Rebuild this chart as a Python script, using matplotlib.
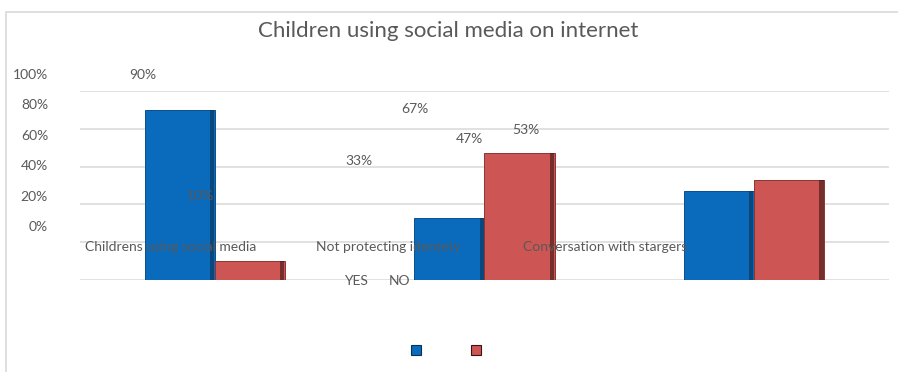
import numpy as np
import matplotlib.pyplot as plt
from matplotlib.patches import Rectangle

categories = ['Childrens using social media', 'Not protecting identety', 'Conversation with stargers']
yes_vals = [90, 33, 47]
no_vals = [10, 67, 53]
series_names = ['YES', 'NO']
y_ticks = [0, 20, 40, 60, 80, 100]
title = 'Children using social media on internet'

W, H = 898, 372
plt.rcParams['font.family'] = ['Lato', 'DejaVu Sans']
txt = '#595959'
blue, blue_edge, blue_dk = '#0a6bbd', '#0a4f8c', '#0b3052'
red, red_edge, red_dk = '#cd5553', '#8a3533', '#3a1413'

fig = plt.figure(figsize=(W / 100, H / 100), dpi=100)

def px(x, y):
    # pixel position -> figure fraction
    return x / W, 1 - y / H

# chart frame (only the left and top edges fall inside the image)
fig.patches.append(Rectangle(px(6, 400), 1, (400 - 12) / H, transform=fig.transFigure,
                             fill=False, edgecolor='#d9d9d9', lw=1.2))

ax = fig.add_axes([80 / W, (H - 280) / H, 809 / W, 189 / H])
x = np.arange(len(categories))
bw = 0.26
ax.bar(x - bw / 2, yes_vals, bw, color=blue, edgecolor=blue_edge, lw=0.7, zorder=3)
ax.bar(x + bw / 2, no_vals, bw, color=red, edgecolor=red_edge, lw=0.7, zorder=3)
# darker right-hand bevel on each bar
ax.bar(x - bw / 2 + bw * 0.46, yes_vals, bw * 0.06, color=blue_dk, lw=0, zorder=4, alpha=0.6)
ax.bar(x + bw / 2 + bw * 0.46, no_vals, bw * 0.06, color=red_dk, lw=0, zorder=4, alpha=0.6)

ax.set_xlim(-0.5, 2.5)
ax.set_ylim(0, 100)
ax.set_yticks(y_ticks)
ax.yaxis.grid(True, color='#d9d9d9', lw=1.1, zorder=0)
ax.tick_params(left=False, bottom=False, labelleft=False, labelbottom=False)
for s in ax.spines.values():
    s.set_visible(False)

fig.text(*px(448, 31), title, ha='center', va='center', fontsize=16, color=txt)

# value axis labels
tick_y = [227, 197, 166, 136, 105, 75]
for t, ty in zip(y_ticks, tick_y):
    fig.text(*px(48, ty), f'{t}%', ha='right', va='center', fontsize=10, color=txt)

# data labels
label_pos = [(143, 75), (200, 196), (359, 161), (415, 109), (469, 139), (526, 130)]
vals = [yes_vals[0], no_vals[0], yes_vals[1], no_vals[1], yes_vals[2], no_vals[2]]
for v, (lx, ly) in zip(vals, label_pos):
    fig.text(*px(lx, ly), f'{v}%', ha='center', va='center', fontsize=10, color=txt, zorder=5)

# category labels
cat_x = [171, 388, 605]
for c, cx in zip(categories, cat_x):
    fig.text(*px(cx, 247), c, ha='center', va='center', fontsize=10, color=txt, zorder=5)

# series names and legend keys
for name, nx in zip(series_names, [356, 399]):
    fig.text(*px(nx, 281), name, ha='center', va='center', fontsize=10, color=txt, zorder=5)
for (fc, ec), lx in zip([(blue, blue_dk), (red, red_dk)], [416, 476]):
    fig.patches.append(Rectangle(px(lx - 5, 355), 10 / W, 10 / H, transform=fig.transFigure,
                                 facecolor=fc, edgecolor=ec, lw=0.8))

fig.savefig('out.png', dpi=100)
